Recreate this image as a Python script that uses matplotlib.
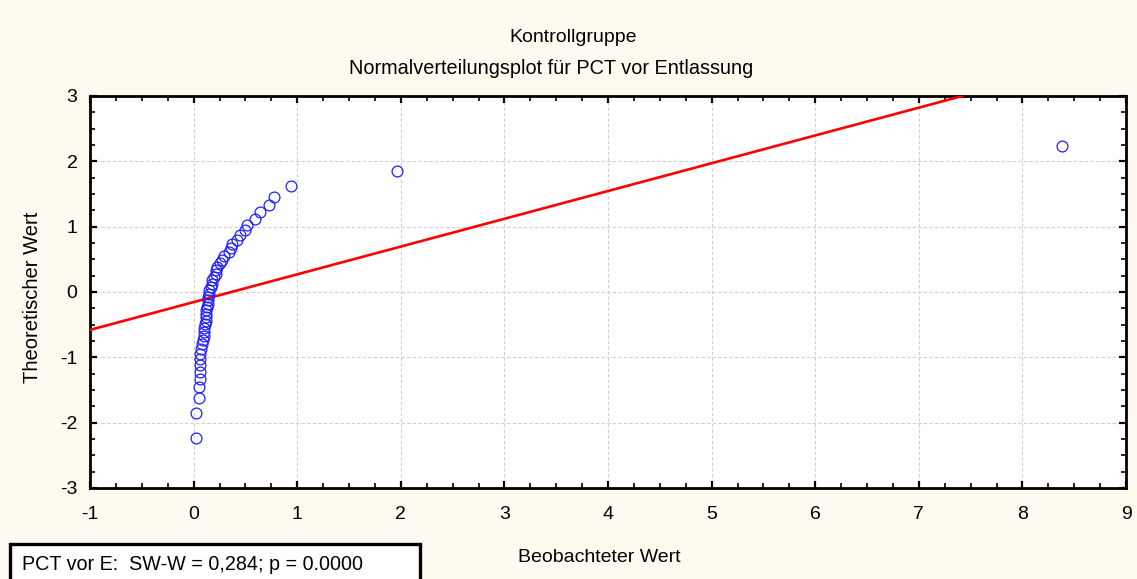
import matplotlib
matplotlib.use("Agg")
import matplotlib.pyplot as plt
from matplotlib.ticker import MultipleLocator
from matplotlib.patches import Rectangle

plt.rcParams['font.family'] = ['Liberation Sans', 'DejaVu Sans']

# Observed PCT values (sorted) and their theoretical normal quantiles
observed = [0.02, 0.02, 0.05, 0.05, 0.06, 0.06, 0.06, 0.06, 0.06, 0.07,
            0.08, 0.09, 0.10, 0.10, 0.10, 0.11, 0.12, 0.12, 0.12, 0.12,
            0.13, 0.14, 0.14, 0.14, 0.15, 0.15, 0.17, 0.18, 0.18, 0.20,
            0.22, 0.22, 0.23, 0.25, 0.27, 0.29, 0.34, 0.36, 0.37, 0.42,
            0.45, 0.50, 0.52, 0.59, 0.64, 0.73, 0.78, 0.94, 1.96, 8.38]
theoretical = [-2.24, -1.85, -1.62, -1.46, -1.33, -1.22, -1.12, -1.03, -0.95, -0.87,
               -0.80, -0.73, -0.67, -0.61, -0.55, -0.49, -0.44, -0.38, -0.33, -0.28,
               -0.23, -0.18, -0.13, -0.07, -0.025, 0.025, 0.07, 0.13, 0.18, 0.23,
               0.28, 0.33, 0.38, 0.44, 0.49, 0.55, 0.61, 0.67, 0.73, 0.80,
               0.87, 0.95, 1.03, 1.12, 1.22, 1.33, 1.46, 1.62, 1.85, 2.24]

# Reference line endpoints
line_x = [-1.0, 7.42]
line_y = [-0.58, 3.0]

x_ticks = [-1, 0, 1, 2, 3, 4, 5, 6, 7, 8, 9]
y_ticks = [-3, -2, -1, 0, 1, 2, 3]

bg = '#FFFAF0'
W, H = 1137, 579
fig = plt.figure(figsize=(W / 100, H / 100), dpi=100, facecolor=bg)
ax = fig.add_axes([90 / W, 1 - 488 / H, (1126 - 90) / W, (488 - 96) / H])
ax.set_facecolor('white')

ax.plot(line_x, line_y, color='#FF0000', lw=1.9, zorder=3)
ax.plot(observed, theoretical, linestyle='none', marker='o', markersize=7.8,
        markerfacecolor='none', markeredgecolor='#2020FF', markeredgewidth=0.9,
        zorder=4, clip_on=False)

ax.set_xlim(-1, 9)
ax.set_ylim(-3, 3)
ax.set_xticks(x_ticks)
ax.set_yticks(y_ticks)
ax.set_xticklabels([str(v) for v in x_ticks])
ax.set_yticklabels([str(v) for v in y_ticks])
ax.xaxis.set_minor_locator(MultipleLocator(0.25))
ax.yaxis.set_minor_locator(MultipleLocator(0.25))

ax.grid(True, which='major', color='#CFCFCF', linestyle=(0, (3, 2)), linewidth=0.8)
ax.set_axisbelow(True)

ax.tick_params(which='both', direction='in', top=True, right=True, colors='black',
               labelsize=14)
ax.tick_params(which='major', length=5, width=1.6)
ax.tick_params(which='minor', length=3.5, width=1.2)
ax.tick_params(axis='x', which='major', pad=13)
ax.tick_params(axis='y', which='major', pad=9)
for s in ax.spines.values():
    s.set_linewidth(2.0)
    s.set_color('black')

fig.text(573 / W, 1 - 38 / H, 'Kontrollgruppe', ha='center', va='center', fontsize=14)
fig.text(551 / W, 1 - 68 / H, 'Normalverteilungsplot für PCT vor Entlassung',
         ha='center', va='center', fontsize=14.3)
fig.text(599 / W, 1 - 557 / H, 'Beobachteter Wert', ha='center', va='center', fontsize=14)
fig.text(33 / W, 1 - 297 / H, 'Theoretischer Wert', ha='center', va='center',
         rotation=90, fontsize=14.5)

# Shapiro-Wilk result box
box = Rectangle((10 / W, -0.01), (420 - 10) / W, (H - 544) / H + 0.01,
                transform=fig.transFigure, facecolor='white', edgecolor='black',
                linewidth=2.4, clip_on=False)
fig.patches.append(box)
fig.text(22 / W, 1 - 564 / H, 'PCT vor E:  SW-W = 0,284; p = 0.0000',
         ha='left', va='center', fontsize=14.2)

fig.savefig('out.png', dpi=100, facecolor=bg)
